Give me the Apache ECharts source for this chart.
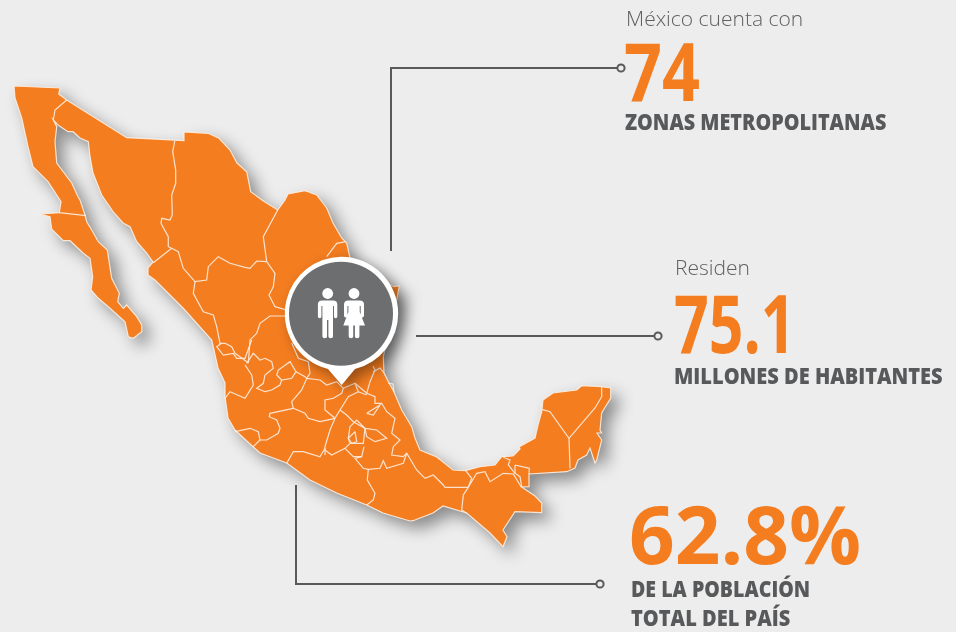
<!DOCTYPE html>
<html>
<head>
<meta charset="utf-8">
<title>Zonas metropolitanas de México</title>
<script src="https://cdn.jsdelivr.net/npm/echarts@6/dist/echarts.min.js"></script>
<style>
html, body { margin: 0; padding: 0; background: #ededed; }
#chart { width: 956px; height: 632px; }
</style>
</head>
<body>
<div id="chart"></div>
<script>
// headline figures and their captions
var intro_labels = ["México cuenta con", "Residen"];
var big_numbers = ["74", "75.1", "62.8%"];
var captions = ["ZONAS METROPOLITANAS", "MILLONES DE HABITANTES", "DE LA POBLACIÓN", "TOTAL DEL PAÍS"];

// country outline (map units)
var mexico_outline = [
    [14,86],[60,88],[58.7,94],[66.7,100],[126.7,137.7],[184,140.7],[184,132],[208,133.3],[219,138.3],[230,150],
    [237,163],[246.7,171.7],[250.7,191.7],[263,200.7],[277.7,210],[285,200],[288,194],[305,190.7],[316.7,195],
    [326.7,208],[333,223],[341.7,238],[346.7,243],[350,258],[393.3,286.7],[399.3,286],[396.7,300],[386,345],
    [383.3,356.7],[384,373],[388,381],[394,392],[401.7,410],[411.7,426.7],[415,438],[420,450],[436.7,457],
    [453,470],[465,470.7],[480,466.7],[495,465],[501.7,456.7],[513,456],[516,453],[520,449],[519,447],[535,438],
    [538,425],[541.7,411.7],[543,400],[553,393],[576.7,390],[581.7,385.7],[601.7,386.7],[610.7,388],[610.7,398],
    [601.7,413],[600,430],[601.7,433],[597,433],[601.7,440],[596.7,460],[595,463],[590,448],[586.7,455],[578,460],
    [575,468],[566.7,471.7],[529,474],[529,486.7],[521.7,487],[535,496],[541.7,503],[541.7,512.7],[515,511.7],
    [503,530],[507,536.7],[503,546.7],[490,533],[466.7,513],[443,506],[433,513],[413,520.7],[410,521],[383,513],
    [366.7,505],[336.7,493],[310,480],[286.7,463],[260,453],[253,446.7],[235,430],[228,418],[225,396.7],[225,383],
    [218,368],[211.7,340],[183,308],[155,280],[148,275],[148,268],[153,262],[146.7,253],[136.7,241.7],[130,226.7],
    [123,223],[113,211.7],[101.7,195],[93,173],[90,156.7],[88.3,141.7],[80,138],[73,131.7],[68,131.7],[58,125],
    [53.3,120],[56.7,126.7],[55,141.7],[56.7,163],[71.7,183],[78,196.7],[80,200],[85,215],[86.7,221.7],[91.7,230],
    [98.3,241.7],[107.3,250],[111.7,278.3],[119.3,293.3],[117.7,301.7],[123.3,308.3],[126.7,305],[136.7,316.7],
    [141.7,325],[141.7,331.7],[133.3,338.3],[128.3,336.7],[125,321.7],[110,308.3],[98.3,298.3],[91,290],[92.7,276.7],
    [90,258.3],[83.3,253.3],[70,240.7],[63.3,240.7],[51.7,229.3],[50,216.7],[40,214],[59.3,212.7],[61,201.7],
    [48,181.7],[33,166.7],[28,146.7],[21.7,118],[15,98],[14,86]
];

// state borders (map units)
var state_borders = [
    [[66.7,100],[55,110],[53.3,120]],
    [[59.3,212.7],[86,215.7]],
    [[174.7,141],[172.7,151.7],[175.7,170],[175.7,183.3],[171.7,195],[172.3,215],[170,220],[161.7,218.3],[161,223.3],[168.3,236.7],[168.3,246.7],[171.7,248.3]],
    [[171.7,248.3],[153.3,262.7]],
    [[277.7,210],[263.3,236.7],[266.7,261.7]],
    [[171.7,248.3],[178.3,251.7],[183.3,268.3],[195,281.7],[206.7,280],[208.3,266.7],[218.3,256.7],[230,263.3],[245,267.3],[250,268.3],[256.7,261],[266.7,261.7]],
    [[195,281.7],[193.3,293.3],[203.3,311.7],[213.3,315],[216.7,326.7],[220,343.3],[225,343.3]],
    [[266.7,261.7],[275,273.3],[273.3,286.7],[269,295],[275,306.7],[290,311]],
    [[290,316],[270,316],[260,323.3],[256.7,333.3],[250,340],[248.3,363.3]],
    [[225,343.3],[231.7,346.7],[235,353.3],[248.3,362.7]],
    [[326.7,256.7],[336.7,243.3],[346,241.7]],
    [[221.7,343.3],[216.7,346.7],[223.3,355],[233.3,353.3],[236.7,358.3],[245,358.3],[251.7,340]],
    [[246.7,363.3],[253.3,353.3],[260,360],[265,358.3],[271.7,361.7],[273.3,368.3],[265,375],[263.3,383.3],[256.7,388.3],[265,391.7],[271.7,390],[280,385],[281.7,380]],
    [[276.7,375],[278.3,370],[290,361.7],[296,371.7],[291.7,378.3],[281.7,380],[276.7,375]],
    [[296,371.7],[305,376.7],[306.7,378.3]],
    [[291.7,343],[298.3,358.3],[308.3,361.7],[310,373.3],[306.7,378.3]],
    [[245,365],[251.7,375],[253.3,385],[245,398.3],[230,391.7],[225,398.3]],
    [[235,431.7],[250,428.3],[258.3,431.7],[260,440],[253.3,446.7]],
    [[260,440],[266.7,440],[278.3,433.3],[280,428.3],[276.7,420],[269.3,416.7],[270,413.3],[293.3,408.3]],
    [[293.3,408.3],[291.7,401.7],[301.7,390],[306.7,378.3],[320,380],[326.7,385],[336.7,381.7],[343.3,388.3],[341.7,393.3],[333.3,398.3],[325,400],[325,410],[335,418.3]],
    [[293.3,408.3],[305,413.3],[308.3,418.3],[320,421.7],[335,418.3]],
    [[343.3,388.3],[355,383.3],[358.3,391.7],[348.3,396.7],[340,410],[335,418.3]],
    [[355,383.3],[366.7,393.3],[370,381.7],[375,370],[373,366]],
    [[366.7,393.3],[375,396.7],[375,403.3],[381.7,403.3],[386.7,411.7],[395,418.3],[391.7,433.3],[400,440],[393.3,446.7],[391.7,455],[403.3,456.7],[406.7,453.3],[416.7,470],[425,478.3],[433.3,475],[443.3,485],[445,487.3],[468.3,487.3]],
    [[358.3,391.7],[366.7,395]],
    [[340,410],[346.7,415],[353.3,421.7],[365,428.3],[376.7,430],[386.7,438.3],[375,441.7],[366.7,436.7],[365,428.3]],
    [[366.7,413.3],[380,405],[373.3,415],[366.7,413.3]],
    [[335,418.3],[330,430],[325,446.7],[325,455]],
    [[325,450],[331.7,455],[345,448.3],[350,443.3],[348.3,438.3],[350,426.7],[356.7,420],[365,428.3],[363.3,443.3],[350,443.3]],
    [[355,431.7],[348.3,438.3],[351.7,443.3],[356.7,441.7],[355,431.7]],
    [[345,448.3],[353.3,456.7],[361.7,456.7],[364,446.7]],
    [[361.7,456.7],[355,458.3],[363.3,468.3],[368.3,469.3],[380,468.3],[383.3,460.7],[386.7,468.3],[403.3,463.3],[406.7,453.3]],
    [[286.7,463.3],[293.3,451.7],[303.3,451.7],[320,456.7],[325,448.3]],
    [[368.3,469.3],[367.3,480],[375,493.3],[373.3,500],[366.7,505]],
    [[373,372],[380,368],[384,373]],
    [[388,383],[393,384],[394,392]],
    [[468.3,487.3],[463.3,495],[461.7,510],[466.7,513.3]],
    [[468.3,487.3],[476.7,473.3],[485,471.7],[490,481.7],[503.3,473.3],[513.3,474],[520,485],[521.7,487.3]],
    [[465.7,470.7],[471.7,478.3],[468.3,487.3]],
    [[503.3,457.3],[510,460],[508.3,465],[515,473.3]],
    [[515,465],[529.3,468.3],[529,474]],
    [[515,465],[515,473.3],[520,476.7],[521.7,486.7]],
    [[541.7,409.3],[550,411.7],[569,438.3],[595,408],[601.7,396.7],[601.7,386.7]],
    [[569,438.3],[570,468.3]]
];

// leader lines between the map and the figures
var leaders = [
    [[391,251],[391,68],[617,68]],
    [[416,336],[654,336]],
    [[296,485],[296,584],[596,584]]
];
var leader_ends = [[621,68],[658,336],[600,584]];

var ORANGE = "#f47d20";
var GREY = "#58595b";
var PIN_GREY = "#6d6e70";

echarts.registerMap("mexico", {
    type: "FeatureCollection",
    features: [{
        type: "Feature",
        properties: {name: "México"},
        geometry: {type: "Polygon", coordinates: [mexico_outline]}
    }]
});

function text(str, x, y, size, weight, color, scale_x){
    return {
        type: "text",
        z: 20,
        x: x,
        y: y,
        scaleX: scale_x,
        style: {
            text: str,
            fill: color,
            font: weight + " " + size + "px 'Open Sans'",
            verticalAlign: "middle"
        }
    };
}

var elements = [];

leaders.forEach(function(points){
    elements.push({
        type: "polyline",
        z: 15,
        shape: {points: points},
        style: {stroke: GREY, lineWidth: 2, fill: null}
    });
});
leader_ends.forEach(function(c){
    elements.push({
        type: "circle",
        z: 15,
        shape: {cx: c[0], cy: c[1], r: 3.6},
        style: {stroke: GREY, lineWidth: 2, fill: "#ededed"}
    });
});

elements.push(text(intro_labels[0], 626, 20, 21, 300, "#5f6062", 1));
elements.push(text(big_numbers[0], 624, 78, 80, 700, ORANGE, 0.83));
elements.push(text(captions[0], 625, 124, 22, 800, GREY, 0.9));

elements.push(text(intro_labels[1], 675, 269, 21, 300, "#5f6062", 1));
elements.push(text(big_numbers[1], 674, 330, 80, 700, ORANGE, 0.76));
elements.push(text(captions[1], 674, 378, 22, 800, GREY, 0.91));

elements.push(text(big_numbers[2], 629, 541, 80, 700, ORANGE, 1));
elements.push(text(captions[2], 631, 591, 22, 800, GREY, 0.89));
elements.push(text(captions[3], 631, 620, 22, 800, GREY, 0.91));

// pin with the two figures, the library draws these svg paths
var pin_paths = {
    body: "M341 256.7 A57 57 0 0 1 355 369 L341.7 385 L328 369 A57 57 0 0 1 341 256.7 Z",
    man: "M322 300.5 H333 Q337.3 300.5 337.3 304.5 V316.5 Q337.3 318.3 335.6 318.3 Q334 318.3 334 316.5 V306 H333 V336.5 Q333 338.3 330.8 338.3 Q328.4 338.3 328.4 336.5 V320 H327 V336.5 Q327 338.3 324.8 338.3 Q322.4 338.3 322.4 336.5 V306 H321.4 V316.5 Q321.4 318.3 319.7 318.3 Q317.9 318.3 317.9 316.5 V304.5 Q317.9 300.5 322 300.5 Z",
    woman: "M348.5 300.5 H359.5 Q364 300.5 364 304.5 V315.5 Q364 317.5 362.3 317.5 Q360.7 317.5 360.7 315.5 V306 H359.7 V312 L365 325.5 H359.4 V336.5 Q359.4 338.3 357.2 338.3 Q354.9 338.3 354.9 336.5 V325.5 H353.2 V336.5 Q353.2 338.3 351 338.3 Q348.7 338.3 348.7 336.5 V325.5 H343.3 L348.4 312 V306 H347.4 V315.5 Q347.4 317.5 345.7 317.5 Q344 317.5 344 315.5 V304.5 Q344 300.5 348.5 300.5 Z"
};

function render_pin(){
    return {
        type: "group",
        children: [
            {
                type: "path",
                shape: {pathData: pin_paths.body},
                style: {
                    fill: "#fff",
                    shadowBlur: 14,
                    shadowOffsetX: 6,
                    shadowOffsetY: 5,
                    shadowColor: "rgba(0,0,0,0.4)"
                }
            },
            {type: "circle", shape: {cx: 341, cy: 313.7, r: 52}, style: {fill: PIN_GREY}},
            {type: "circle", shape: {cx: 327.7, cy: 293.5, r: 5.4}, style: {fill: "#fff"}},
            {type: "circle", shape: {cx: 354, cy: 293.5, r: 5.4}, style: {fill: "#fff"}},
            {type: "path", shape: {pathData: pin_paths.man}, style: {fill: "#fff"}},
            {type: "path", shape: {pathData: pin_paths.woman}, style: {fill: "#fff"}}
        ]
    };
}

var chart = echarts.init(document.getElementById("chart"), null, {renderer: "canvas"});

var option = {
    animation: false,
    backgroundColor: "#ededed",
    geo: {
        map: "mexico",
        silent: true,
        roam: false,
        aspectScale: 1,
        left: 0,
        top: 0,
        width: 956,
        height: 632,
        boundingCoords: [[0, 0], [956, 632]],
        projection: {
            project: function(p){ return p; },
            unproject: function(p){ return p; }
        },
        label: {show: false},
        // no border here, a stroke would throw its shadow onto the fill
        itemStyle: {
            areaColor: ORANGE,
            borderWidth: 0,
            shadowBlur: 16,
            shadowOffsetX: 8,
            shadowOffsetY: 8,
            shadowColor: "rgba(0,0,0,0.42)"
        }
    },
    series: [{
        type: "lines",
        coordinateSystem: "geo",
        polyline: true,
        silent: true,
        z: 3,
        lineStyle: {color: "#fdeee2", width: 1.2, opacity: 0.9, curveness: 0},
        data: [mexico_outline].concat(state_borders).map(function(b){ return {coords: b}; })
    }, {
        type: "custom",
        coordinateSystem: "none",
        silent: true,
        z: 10,
        data: [0],
        renderItem: render_pin
    }],
    graphic: {elements: elements}
};

chart.setOption(option);
</script>
</body>
</html>
